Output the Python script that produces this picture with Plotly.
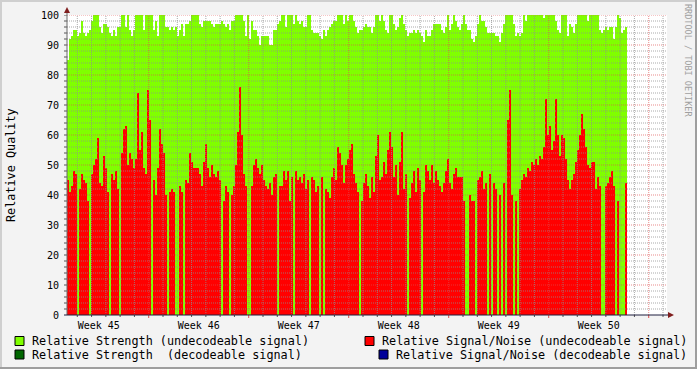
import plotly.graph_objects as go

# ---------------- data ----------------
week_labels = ["Week 45", "Week 46", "Week 47", "Week 48", "Week 49", "Week 50"]
y_tick_values = [0, 10, 20, 30, 40, 50, 60, 70, 80, 90, 100]

# time axis (days since graph start)
span_days = 42.0
sample_start = 0.0
sample_step = 0.14          # days per sample
first_day_line = 0.72       # first midnight
first_week_line = 5.72      # first Monday 00:00

# Relative Strength (undecodeable signal)
strength = [
    85, 92, 93, 95, 95, 93, 94, 98, 94, 93, 94, 95, 98, 100, 100, 100, 96, 94, 97, 97,
    96, 94, 93, 95, 93, 96, 96, 100, 100, 96, 100, 95, 93, 95, 100, 100, 100, 100, 95, 100,
    100, 100, 100, 95, 98, 93, 100, 100, 100, 96, 96, 95, 96, 95, 96, 93, 95, 97, 93, 97,
    97, 98, 100, 100, 100, 100, 97, 96, 98, 98, 98,
    98, 97, 96, 97, 97, 97, 98, 97, 96, 97, 95, 98, 98, 100, 100, 100, 100, 98, 93, 100,
    92, 98, 95, 95, 93, 90, 93, 93, 93, 93, 90, 90, 95, 95, 97, 98, 100, 100, 96, 100,
    100, 100, 97, 100, 98, 97, 98, 96, 96, 100, 100, 95, 94, 94, 94, 93, 92, 95, 93, 95,
    96, 97, 98, 98, 100, 100, 100, 97, 100, 98,
    100, 100, 98, 96, 94, 95, 95, 96, 97, 96, 96, 94, 96, 100, 100, 98, 100, 98, 95, 94,
    100, 100, 97, 95, 96, 99, 100, 97, 95, 93, 94, 94, 95, 94, 95, 94, 93, 91, 95, 93,
    93, 95, 97, 97, 97, 97, 95, 94, 96, 100, 95, 97, 100, 98, 96, 95, 97, 100, 97, 95,
    95, 92, 91, 93, 97, 100, 98, 98, 96, 94,
    94, 94, 94, 93, 93, 91, 94, 97, 100, 100, 100, 100, 97, 93, 94, 93, 94, 100, 98, 100,
    100, 100, 100, 100, 100, 100, 100, 99, 100, 100, 100, 100, 100, 98, 95, 94, 100, 100, 100, 93,
    97, 96, 94, 97, 100, 100, 100, 100, 100, 98, 100, 100, 100, 100, 100, 95, 94, 95, 96, 95,
    96, 96, 92, 96, 100, 99, 94, 95, 96,
]

# Relative Signal/Noise (undecodeable signal)
snr = [
    45, 41, 43, 48, 47, 0, 42, 47, 45, 44, 38, 0, 47, 50, 52, 59, 44, 43, 53, 49,
    41, 0, 47, 45, 48, 42, 0, 54, 62, 63, 50, 54, 52, 49, 52, 74, 55, 61, 49, 47,
    75, 65, 0, 45, 40, 49, 62, 57, 54, 40, 0, 41, 42, 41, 0, 0, 43, 41, 0, 45,
    44, 54, 51, 49, 49, 49, 47, 43, 51, 57, 49,
    46, 50, 47, 46, 48, 45, 0, 38, 43, 41, 0, 40, 43, 50, 61, 76, 60, 47, 43, 0,
    0, 43, 50, 52, 49, 47, 50, 45, 43, 42, 44, 40, 46, 47, 0, 43, 43, 48, 45, 48,
    38, 46, 0, 48, 45, 46, 44, 47, 42, 45, 0, 46, 45, 41, 43, 0, 46, 0, 42, 41,
    39, 46, 49, 45, 56, 54, 50, 44, 50, 52,
    55, 57, 47, 44, 41, 0, 38, 44, 47, 43, 39, 46, 41, 53, 60, 45, 46, 51, 47, 55,
    61, 56, 46, 50, 40, 51, 61, 42, 47, 0, 39, 44, 48, 41, 49, 45, 0, 41, 50, 48,
    45, 50, 44, 48, 45, 43, 41, 44, 48, 52, 44, 42, 47, 49, 46, 46, 46, 38, 0, 0,
    40, 38, 38, 0, 45, 46, 48, 42, 44, 0,
    47, 0, 44, 42, 0, 40, 0, 44, 0, 65, 75, 40, 0, 38, 0, 42, 45, 47, 46, 49,
    48, 51, 50, 52, 50, 53, 52, 56, 72, 60, 63, 55, 58, 72, 60, 53, 60, 59, 52, 45,
    42, 45, 47, 51, 55, 60, 67, 62, 56, 50, 49, 51, 51, 42, 46, 43, 0, 0, 43, 44,
    46, 48, 43, 0, 38, 0, 0, 0, 44,
]

legend_items = [
    ("Relative Strength (undecodeable signal)", "#80FF00"),
    ("Relative Signal/Noise (undecodeable signal)", "#FF0000"),
    ("Relative Strength\u00a0 (decodeable signal)", "#006600"),
    ("Relative Signal/Noise (decodeable signal)", "#000099"),
]

# ---------------- layout constants ----------------
W, H = 697, 369
ML, MR, MT, MB = 67, 30, 15, 54
PW, PH = W - ML - MR, H - MT - MB
FONT = "DejaVu Sans Mono"


def px(x):
    return (x - ML) / PW


def py(y):
    return (H - MB - y) / PH


n = len(strength)
xs = [sample_start + sample_step * i for i in range(n + 1)]
ys_strength = strength + [strength[-1]]
ys_snr = snr + [snr[-1]]

fig = go.Figure()
fig.add_trace(go.Scatter(x=xs, y=ys_strength, mode="lines", line=dict(width=0, shape="hv"),
                         fill="tozeroy", fillcolor="#80FF00", hoverinfo="skip",
                         name=legend_items[0][0], showlegend=False))
fig.add_trace(go.Scatter(x=xs, y=ys_snr, mode="lines", line=dict(width=0, shape="hv"),
                         fill="tozeroy", fillcolor="#FF0000", hoverinfo="skip",
                         name=legend_items[1][0], showlegend=False))

shapes = []
minor_col = "rgba(143,143,143,0.75)"
major_col = "rgba(222,79,79,0.65)"
# horizontal grid
for v in range(2, 101, 2):
    col = major_col if v % 10 == 0 else minor_col
    shapes.append(dict(type="line", xref="x", yref="y", x0=0, x1=span_days, y0=v, y1=v,
                       line=dict(color=col, width=1, dash="1px,1px"), layer="above"))
    shapes.append(dict(type="line", xref="paper", yref="y", x0=-3 / PW, x1=0, y0=v, y1=v,
                       line=dict(color="#555555", width=1), layer="above"))
# vertical grid
i = 0
while first_day_line + i < span_days:
    d = first_day_line + i
    is_major = abs(((d - first_week_line) / 7) - round((d - first_week_line) / 7)) < 1e-6
    col = major_col if is_major else minor_col
    shapes.append(dict(type="line", xref="x", yref="y", x0=d, x1=d, y0=0, y1=100,
                       line=dict(color=col, width=1, dash="1px,1px"), layer="above"))
    shapes.append(dict(type="line", xref="x", yref="paper", x0=d, x1=d, y0=0,
                       y1=-(3 if is_major else 2) / PH,
                       line=dict(color="#DE4F4F" if is_major else "#555555", width=1),
                       layer="above"))
    i += 1

# axes lines and arrows
shapes.append(dict(type="line", xref="paper", yref="paper", x0=0, x1=0, y0=0, y1=py(10),
                   line=dict(color="#6a6a6a", width=1), layer="above"))
shapes.append(dict(type="line", xref="paper", yref="paper", x0=px(64), x1=px(670), y0=0, y1=0,
                   line=dict(color="#1F1F3F", width=1), layer="above"))
shapes.append(dict(type="path", xref="paper", yref="paper",
                   path=f"M {px(64)},{py(13)} L {px(70)},{py(13)} L {px(67)},{py(7)} Z",
                   fillcolor="#801F1F", line=dict(width=0), layer="above"))
shapes.append(dict(type="path", xref="paper", yref="paper",
                   path=f"M {px(668)},{py(312)} L {px(668)},{py(318)} L {px(674)},{py(315)} Z",
                   fillcolor="#801F1F", line=dict(width=0), layer="above"))

# frame shading
shapes.append(dict(type="rect", xref="paper", yref="paper", x0=px(0), x1=px(W), y0=py(0), y1=py(2),
                   fillcolor="#CFCFCF", line=dict(width=0), layer="below"))
shapes.append(dict(type="rect", xref="paper", yref="paper", x0=px(0), x1=px(2), y0=py(0), y1=py(H),
                   fillcolor="#CFCFCF", line=dict(width=0), layer="below"))
shapes.append(dict(type="rect", xref="paper", yref="paper", x0=px(0), x1=px(W), y0=py(H - 2), y1=py(H),
                   fillcolor="#9E9E9E", line=dict(width=0), layer="below"))
shapes.append(dict(type="rect", xref="paper", yref="paper", x0=px(W - 2), x1=px(W), y0=py(0), y1=py(H),
                   fillcolor="#9E9E9E", line=dict(width=0), layer="below"))

annotations = []
# y tick labels, placed in data coordinates
for v in y_tick_values:
    annotations.append(dict(text=str(v), xref="paper", yref="y", x=px(61), y=v,
                            xanchor="right", yanchor="middle", showarrow=False,
                            font=dict(family=FONT, size=10, color="#000000")))
# legend
legend_pos = [(15, 341), (365, 341), (15, 354.5), (379, 354.5)]
for (label, col), (bx, cy) in zip(legend_items, legend_pos):
    shapes.append(dict(type="rect", xref="paper", yref="paper",
                       x0=px(bx), x1=px(bx + 9), y0=py(cy - 4.5), y1=py(cy + 4.5),
                       fillcolor=col, line=dict(color="#000000", width=1), layer="above"))
    annotations.append(dict(text=label, xref="paper", yref="paper", x=px(bx + 15), y=py(cy),
                            xanchor="left", yanchor="middle", showarrow=False,
                            font=dict(family=FONT, size=11.8, color="#000000")))

annotations.append(dict(text="Relative Quality", xref="paper", yref="paper", x=px(11), y=py(165),
                        xanchor="center", yanchor="middle", textangle=-90, showarrow=False,
                        font=dict(family=FONT, size=11.8, color="#000000")))
annotations.append(dict(text="RRDTOOL / TOBI OETIKER", xref="paper", yref="paper", x=px(688), y=py(60),
                        xanchor="center", yanchor="middle", textangle=90, showarrow=False,
                        font=dict(family=FONT, size=8.5, color="#A0A0A0")))

week_centers = [first_week_line - 3.5 + 7 * k for k in range(len(week_labels))]

fig.update_layout(
    width=W, height=H,
    margin=dict(l=ML, r=MR, t=MT, b=MB, autoexpand=False),
    paper_bgcolor="#F3F3F3", plot_bgcolor="#FFFFFF",
    showlegend=False,
    shapes=shapes, annotations=annotations,
    xaxis=dict(range=[0, span_days], tickmode="array", tickvals=week_centers, ticktext=week_labels,
               ticks="outside", ticklen=1, tickcolor="rgba(0,0,0,0)", automargin=False,
               showgrid=False, zeroline=False, showline=False, fixedrange=True,
               tickfont=dict(family=FONT, size=10, color="#000000")),
    yaxis=dict(range=[0, 100], showticklabels=False, ticks="", automargin=False,
               showgrid=False, zeroline=False, showline=False, fixedrange=True),
)

fig.write_html("out.html")
